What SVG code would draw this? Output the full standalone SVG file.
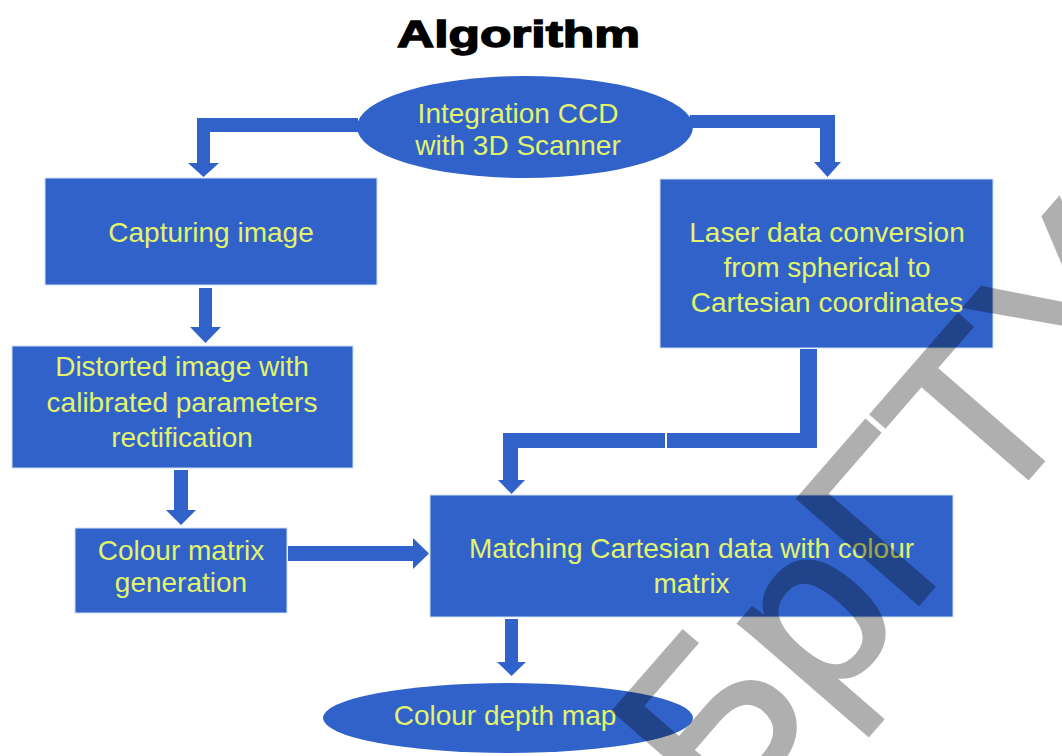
<svg xmlns="http://www.w3.org/2000/svg" width="1062" height="756" viewBox="0 0 1062 756">
<style>
.shape{fill:#3162CA;}
.box{fill:#3162CA;stroke:#cfe0f5;stroke-width:1;}
.lbl{font-family:"Liberation Sans",Arial,sans-serif;font-size:28px;fill:#E2F36C;text-anchor:middle;}
.conn{fill:#3162CA;}
</style>
<rect x="0" y="0" width="1062" height="756" fill="#ffffff"/>
<g id="title">
<text x="518.5" y="47" font-family="'Liberation Sans',Arial,sans-serif" font-weight="bold" font-size="37" text-anchor="middle" textLength="243" lengthAdjust="spacingAndGlyphs" fill="#000" stroke="#000" stroke-width="1.4">Algorithm</text>
</g>
<g id="connectors">
<polygon class="conn" points="358,118 197,118 197,163 188,163 203.5,177 219,163 210,163 210,132 358,132"/>
<polygon class="conn" points="690,115 835,115 835,162 841,162 827.5,177 814,162 820,162 820,128 690,128"/>
<polygon class="conn" points="199,288 212,288 212,327 221,327 205.5,343 190,327 199,327"/>
<polygon class="conn" points="174,470 188,470 188,510 196,510 181,525 166,510 174,510"/>
<polygon class="conn" points="288,546 413,546 413,538 429,553.5 413,569 413,561 288,561"/>
<polygon class="conn" points="505,619 518,619 518,662 526,662 511.5,676 497,662 505,662"/>
<polygon class="conn" points="800,349 817,349 817,448 667,448 667,433 800,433"/>
<polygon class="conn" points="665,433 665,448 518,448 518,480 525,480 511.5,494 498,480 503,480 503,433"/>
</g>
<g id="node-integration">
<ellipse class="shape" cx="525" cy="127" rx="168" ry="51"/>
<text class="lbl" x="518" y="123">Integration CCD</text>
<text class="lbl" x="518" y="155">with 3D Scanner</text>
</g>
<g id="node-capturing">
<rect class="box" x="45" y="178" width="332" height="107"/>
<text class="lbl" x="211" y="242">Capturing image</text>
</g>
<g id="node-distorted">
<rect class="box" x="12" y="346" width="341" height="122"/>
<text class="lbl" x="182" y="376">Distorted image with</text>
<text class="lbl" x="182" y="412">calibrated parameters</text>
<text class="lbl" x="182" y="447">rectification</text>
</g>
<g id="node-colour-matrix">
<rect class="box" x="75" y="528" width="212" height="85"/>
<text class="lbl" x="181" y="560">Colour matrix</text>
<text class="lbl" x="181" y="592">generation</text>
</g>
<g id="node-laser">
<rect class="box" x="660" y="179" width="333" height="169"/>
<text class="lbl" x="827" y="242">Laser data conversion</text>
<text class="lbl" x="827" y="277">from spherical to</text>
<text class="lbl" x="827" y="312">Cartesian coordinates</text>
</g>
<g id="node-matching">
<rect class="box" x="430" y="495" width="523" height="122"/>
<text class="lbl" x="691.5" y="558">Matching Cartesian data with colour</text>
<text class="lbl" x="691.5" y="593">matrix</text>
</g>
<g id="node-depth-map">
<ellipse class="shape" cx="508" cy="718" rx="185" ry="35"/>
<text class="lbl" x="505" y="725">Colour depth map</text>
</g>
<g id="watermark" opacity="0.31">
<text transform="translate(722,830) rotate(-49)" font-family="'Liberation Sans',Arial,sans-serif" font-size="232" fill="#000" stroke="#000" stroke-width="4" stroke-linejoin="miter">БрГТУ</text>
</g>
</svg>
